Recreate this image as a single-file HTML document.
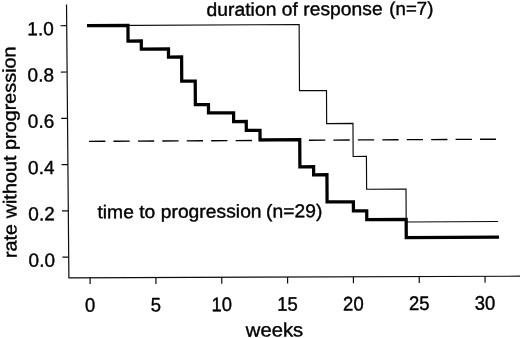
<!DOCTYPE html>
<html>
<head>
<meta charset="utf-8">
<title>Kaplan-Meier chart</title>
<style>
  html, body { margin: 0; padding: 0; background: #ffffff; }
  body { width: 520px; height: 338px; overflow: hidden; }
  svg { display: block; will-change: transform; }
  text { font-family: "Liberation Sans", sans-serif; fill: #000; stroke: #000; stroke-width: 0.38px; stroke-linejoin: round; }
</style>
</head>
<body>
<svg width="520" height="338" viewBox="0 0 520 338">
<rect x="0" y="0" width="520" height="338" fill="#ffffff"/>
<g transform="rotate(-0.3056)">
<g stroke="#0c0c0c" stroke-width="1.2" fill="none">
<path d="M66.50 4.8 L67.40 278.15 L520.5 278.99"/>
<path d="M60.27 26.05 H66.57 M60.42 72.35 H66.72 M60.58 118.65 H66.88 M60.73 164.95 H67.03 M60.88 211.25 H67.18 M61.03 257.55 H67.33"/>
<path d="M88.62 278.19 V284.59 M154.44 278.31 V284.71 M220.27 278.43 V284.83 M286.10 278.56 V284.96 M351.92 278.68 V285.08 M417.75 278.80 V285.20 M483.57 278.92 V285.32"/>
</g>
<path d="M88.25 141.85 H495.2" stroke="#000" stroke-width="1.35" stroke-dasharray="16.3 8.14" fill="none"/>
<path d="M88.5 26.10 H299.00 V92.24 H326.00 V125.31 H352.30 V158.39 H365.60 V191.16 H405.00 V224.15 H496.95" stroke="#080808" stroke-width="1.15" fill="none"/>
<path d="M88.45 26.10 H127.83 V41.73 H141.07 V49.83 H168.20 V57.93 H181.30 V82.05 H194.80 V105.67 H207.90 V114.07 H233.00 V122.77 H245.60 V131.66 H259.30 V141.25 H299.00 V168.36 H312.70 V176.46 H326.00 V203.71 H352.30 V212.83 H365.60 V221.65 H405.00 V239.75 H496.15" stroke="#000" stroke-width="3.25" fill="none" stroke-linecap="square"/>
<text transform="translate(53.60 35.40) scale(1.0 1)" font-size="19" text-anchor="end">1.0</text>
<text transform="translate(53.60 81.70) scale(1.0 1)" font-size="19" text-anchor="end">0.8</text>
<text transform="translate(53.60 128.00) scale(1.0 1)" font-size="19" text-anchor="end">0.6</text>
<text transform="translate(53.60 174.30) scale(1.0 1)" font-size="19" text-anchor="end">0.4</text>
<text transform="translate(53.60 220.60) scale(1.0 1)" font-size="19" text-anchor="end">0.2</text>
<text transform="translate(53.60 266.90) scale(1.0 1)" font-size="19" text-anchor="end">0.0</text>
<text transform="translate(88.42 312.30) scale(0.945 1)" font-size="19.6" text-anchor="middle">0</text>
<text transform="translate(154.25 312.30) scale(0.945 1)" font-size="19.6" text-anchor="middle">5</text>
<text transform="translate(220.07 312.30) scale(0.945 1)" font-size="19.6" text-anchor="middle">10</text>
<text transform="translate(285.90 312.30) scale(0.945 1)" font-size="19.6" text-anchor="middle">15</text>
<text transform="translate(351.72 312.30) scale(0.945 1)" font-size="19.6" text-anchor="middle">20</text>
<text transform="translate(417.55 312.30) scale(0.945 1)" font-size="19.6" text-anchor="middle">25</text>
<text transform="translate(483.37 312.30) scale(0.945 1)" font-size="19.6" text-anchor="middle">30</text>
<text transform="translate(272.70 338.00) scale(1.05 1)" font-size="19.3" text-anchor="middle">weeks</text>
<text transform="translate(15.25 152.30) rotate(-90) scale(1.073 1)" font-size="18.5" text-anchor="middle">rate without progression</text>
<text transform="translate(206.52 17.00) scale(1.044 1)" font-size="18.5" text-anchor="start">duration of response</text>
<text transform="translate(389.22 17.03) scale(1.01 1)" font-size="18.5" text-anchor="start">(n=7)</text>
<text transform="translate(96.24 218.82) scale(1.044 1)" font-size="18.5" text-anchor="start">time to progression</text>
<text transform="translate(264.84 218.87) scale(1.044 1)" font-size="18.5" text-anchor="start">(n=29)</text>
</g>
</svg>
</body>
</html>
